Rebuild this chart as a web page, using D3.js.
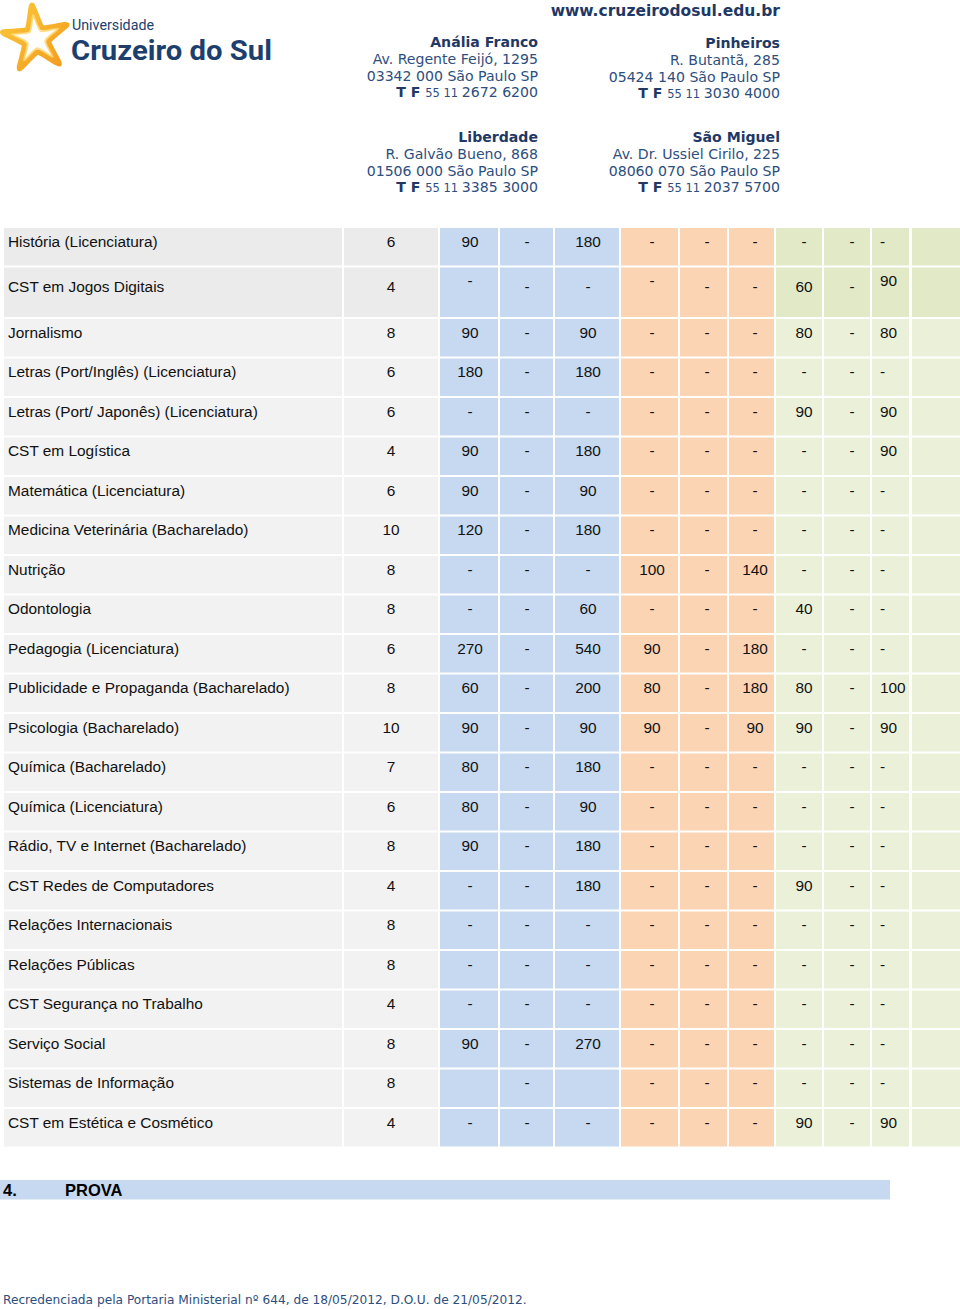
<!DOCTYPE html>
<html><head><meta charset="utf-8">
<script src="https://cdn.jsdelivr.net/npm/d3@7"></script>
<style>body{margin:0;background:#fff}svg{display:block}</style>
</head><body>
<script>
const courses = ["História (Licenciatura)","CST em Jogos Digitais","Jornalismo","Letras (Port/Inglês) (Licenciatura)","Letras (Port/ Japonês) (Licenciatura)","CST em Logística","Matemática (Licenciatura)","Medicina Veterinária (Bacharelado)","Nutrição","Odontologia","Pedagogia (Licenciatura)","Publicidade e Propaganda (Bacharelado)","Psicologia (Bacharelado)","Química (Bacharelado)","Química (Licenciatura)","Rádio, TV e Internet (Bacharelado)","CST Redes de Computadores","Relações Internacionais","Relações Públicas","CST Segurança no Trabalho","Serviço Social","Sistemas de Informação","CST em Estética e Cosmético"];
const credits = ["6","4","8","6","6","4","6","10","8","8","6","8","10","7","6","8","4","8","8","4","8","8","4"];
const blue1  = ["90","-","90","180","-","90","90","120","-","-","270","60","90","80","80","90","-","-","-","-","90","","-"];
const blue2  = ["-","-","-","-","-","-","-","-","-","-","-","-","-","-","-","-","-","-","-","-","-","-","-"];
const blue3  = ["180","-","90","180","-","180","90","180","-","60","540","200","90","180","90","180","180","-","-","-","270","","-"];
const peach1 = ["-","-","-","-","-","-","-","-","100","-","90","80","90","-","-","-","-","-","-","-","-","-","-"];
const peach2 = ["-","-","-","-","-","-","-","-","-","-","-","-","-","-","-","-","-","-","-","-","-","-","-"];
const peach3 = ["-","-","-","-","-","-","-","-","140","-","180","180","90","-","-","-","-","-","-","-","-","-","-"];
const green1 = ["-","60","80","-","90","-","-","-","-","40","-","80","90","-","-","-","90","-","-","-","-","-","90"];
const green2 = ["-","-","-","-","-","-","-","-","-","-","-","-","-","-","-","-","-","-","-","-","-","-","-"];
const green3 = ["-","90","80","-","90","90","-","-","-","-","-","100","90","-","-","-","-","-","-","-","-","-","90"];
const raisedCells = [[1,"blue1"],[1,"peach1"],[1,"green3"]];
const campuses = [
  {name:"Anália Franco", street:"Av. Regente Feijó, 1295", city:"03342 000 São Paulo SP", phone:"2672 6200"},
  {name:"Pinheiros", street:"R. Butantã, 285", city:"05424 140 São Paulo SP", phone:"3030 4000"},
  {name:"Liberdade", street:"R. Galvão Bueno, 868", city:"01506 000 São Paulo SP", phone:"3385 3000"},
  {name:"São Miguel", street:"Av. Dr. Ussiel Cirilo, 225", city:"08060 070 São Paulo SP", phone:"2037 5700"}
];

const W = 960, H = 1309;
const svg = d3.select("body").append("svg").attr("width", W).attr("height", H);

// ---------- header ----------
const defs = svg.append("defs");
const g1 = defs.append("linearGradient").attr("id","starg").attr("x1","0").attr("y1","0").attr("x2","1").attr("y2","1");
g1.append("stop").attr("offset","0").attr("stop-color","#fbc93a");
g1.append("stop").attr("offset","1").attr("stop-color","#f39a1e");
const cx = 36, cy = 39, R = 34, r = 13;
const starPts = d3.range(10).map(i => {
  const a = -Math.PI/2 + i*Math.PI/5 - 0.12;
  const rr = i%2===0 ? R : r;
  return [cx + rr*Math.cos(a), cy + rr*Math.sin(a)];
});
svg.append("path").attr("d", d3.line().curve(d3.curveCardinalClosed.tension(0.55))(starPts))
  .attr("fill","none").attr("stroke","url(#starg)").attr("stroke-width",5.5).attr("stroke-linejoin","round");
svg.append("path").attr("d", d3.line().curve(d3.curveCardinalClosed.tension(0.3))(starPts.map(p=>[cx+(p[0]-cx)*0.72, cy+(p[1]-cy)*0.72])))
  .attr("fill","none").attr("stroke","#fcd66a").attr("stroke-width",2).attr("opacity",0.8);

svg.append("text").attr("x",72).attr("y",30).text("Universidade")
  .attr("font-family","Roboto, 'Open Sans', sans-serif").attr("font-size",14).attr("fill","#1d3f6e")
  .attr("textLength",82).attr("lengthAdjust","spacingAndGlyphs");
svg.append("text").attr("x",71).attr("y",60).text("Cruzeiro do Sul")
  .attr("font-family","Roboto, 'Open Sans', sans-serif").attr("font-weight","bold").attr("font-size",28).attr("fill","#1d3f6e")
  .attr("textLength",201).attr("lengthAdjust","spacingAndGlyphs");

const hf = "'DejaVu Sans', Verdana, sans-serif";
svg.append("text").attr("x",780).attr("y",16).attr("text-anchor","end").text("www.cruzeirodosul.edu.br")
  .attr("font-family",hf).attr("font-weight","bold").attr("font-size",15.5).attr("fill","#1f3864");

const campX = [538, 780, 538, 780], campY = [47, 48, 142, 142];
campuses.forEach((c,i) => {
  const g = svg.append("g").attr("font-family",hf).attr("text-anchor","end").attr("font-size",14.1).attr("fill","#2d4e7e");
  g.append("text").attr("x",campX[i]).attr("y",campY[i]).attr("font-weight","bold").attr("fill","#1f3864").text(c.name);
  g.append("text").attr("x",campX[i]).attr("y",campY[i]+17).text(c.street);
  g.append("text").attr("x",campX[i]).attr("y",campY[i]+33.5).text(c.city);
  const t = g.append("text").attr("x",campX[i]).attr("y",campY[i]+50);
  t.append("tspan").attr("font-weight","bold").attr("fill","#1f3864").text("T F ");
  t.append("tspan").attr("font-size",11.5).text("55 11 ");
  t.append("tspan").text(c.phone);
});

// ---------- table ----------
const cols = [
  {key:"credit", x0:344, x1:438, fill:"gray", tx:391, anchor:"middle", data:credits},
  {key:"blue1",  x0:440, x1:498, fill:"blue", tx:470, anchor:"middle", data:blue1},
  {key:"blue2",  x0:500, x1:553, fill:"blue", tx:527, anchor:"middle", data:blue2},
  {key:"blue3",  x0:555, x1:619, fill:"blue", tx:588, anchor:"middle", data:blue3},
  {key:"peach1", x0:621, x1:678, fill:"peach", tx:652, anchor:"middle", data:peach1},
  {key:"peach2", x0:680, x1:727, fill:"peach", tx:707, anchor:"middle", data:peach2},
  {key:"peach3", x0:729, x1:774, fill:"peach", tx:755, anchor:"middle", data:peach3},
  {key:"green1", x0:776, x1:822, fill:"green", tx:804, anchor:"middle", data:green1},
  {key:"green2", x0:824, x1:870, fill:"green", tx:852, anchor:"middle", data:green2},
  {key:"green3", x0:872, x1:909, fill:"green", tx:880, anchor:"start", data:green3},
  {key:"extra",  x0:912, x1:960, fill:"green", tx:936, anchor:"middle", data:courses.map(()=> "")}
];
const fills = {
  gray: i => i < 2 ? "#ebebeb" : "#f2f2f2",
  blue: i => "#c6d9f0",
  peach: i => "#fbd4b4",
  green: i => i < 2 ? "#e1e9c7" : "#ebf1d9"
};
const tableTop = 228, rowH = 39.5, tallExtra = 12;
const rowHeights = courses.map((c,i) => i === 1 ? rowH + tallExtra : rowH);
const rowTops = rowHeights.map((h,i) => tableTop + d3.sum(rowHeights.slice(0,i)));
const y = d3.scaleOrdinal().domain(d3.range(courses.length)).range(rowTops);

const tf = "'Liberation Sans', Arial, Helvetica, sans-serif";
const table = svg.append("g").attr("font-family",tf).attr("font-size",15.4).attr("fill","#111");

const rows = table.selectAll("g.row").data(courses).join("g").attr("class","row")
  .attr("transform",(d,i)=>`translate(0,${y(i)})`);

rows.append("rect").attr("x",4).attr("y",0).attr("width",338).attr("height",(d,i)=>rowHeights[i]-2)
  .attr("fill",(d,i)=>fills.gray(i));
rows.append("text").attr("x",8).attr("y",(d,i)=> i===1 ? 24.5 : 18.5).text(d=>d);

const isRaised = (i,k) => raisedCells.some(r => r[0]===i && r[1]===k);
cols.forEach(col => {
  rows.append("rect").attr("x",col.x0).attr("y",0).attr("width",col.x1-col.x0)
    .attr("height",(d,i)=>rowHeights[i]-2).attr("fill",(d,i)=>fills[col.fill](i));
  rows.append("text").attr("x",col.tx).attr("text-anchor",col.anchor)
    .attr("y",(d,i)=> i===1 ? (isRaised(i,col.key) ? 18.5 : 24.5) : 18.5)
    .text((d,i)=>col.data[i]);
});

// ---------- section heading ----------
svg.append("rect").attr("x",0).attr("y",1180).attr("width",890).attr("height",19.5).attr("fill","#c6d9f0");
const sec = svg.append("g").attr("font-family",tf).attr("font-weight","bold").attr("font-size",16.5).attr("fill","#000");
sec.append("text").attr("x",3).attr("y",1196).text("4.");
sec.append("text").attr("x",65).attr("y",1196).text("PROVA");

svg.append("text").attr("x",3).attr("y",1304).text("Recredenciada pela Portaria Ministerial nº 644, de 18/05/2012, D.O.U. de 21/05/2012.")
  .attr("font-family",hf).attr("font-size",12.2).attr("fill","#2d4e7e");
</script>
</body></html>
